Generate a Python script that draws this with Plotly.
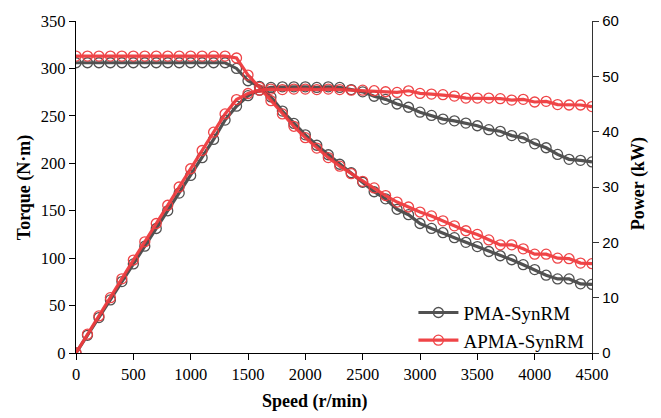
import plotly.graph_objects as go

speed = list(range(0, 4600, 100))

torque_pma = [306]*14 + [300, 287, 281, 270, 255, 242, 230, 219, 209, 199, 190, 180, 170,
              162.5, 151.5, 145.8, 136.5, 131.3, 126.8, 121.6, 116.7, 112.2, 107.0, 102.5,
              98.3, 93.1, 87.9, 82.0, 78.1, 78.1, 72.9, 72.3]
torque_apma = [313]*14 + [311, 293, 280, 266, 252, 239, 227, 216, 206, 197, 189, 181, 174,
               166.0, 159.1, 153.9, 148.6, 144.5, 139.3, 134.1, 128.9, 125.0, 119.2, 114.0,
               114.0, 109.8, 104.2, 104.2, 100.0, 99.4, 94.8, 94.2]
power_pma = [0, 3.2, 6.4, 9.6, 12.9, 16.1, 19.3, 22.5, 25.7, 28.9, 32.1, 35.3, 38.6, 42.1,
             44.6, 46.5, 47.5, 48.0, 48.1, 48.1, 48.1, 48.0, 48.1, 48.0, 47.6, 47.2, 46.4,
             45.84, 45.0, 44.41, 43.52, 42.93, 42.27, 41.96, 41.55, 41.07, 40.36, 40.07,
             39.29, 38.88, 37.8, 37.09, 35.89, 35.0, 34.82, 34.54]
power_apma = [0, 3.4, 6.7, 10.0, 13.4, 16.8, 20.1, 23.4, 26.7, 30.0, 33.3, 36.6, 39.9, 43.2,
              45.8, 46.9, 47.5, 47.7, 47.6, 47.7, 47.7, 47.6, 47.7, 47.6, 47.5, 47.5, 47.4,
              47.21, 47.09, 47.39, 46.91, 46.79, 46.68, 46.43, 46.07, 46.07, 46.07, 45.96,
              45.71, 45.84, 45.36, 45.48, 44.89, 44.82, 44.82, 44.54]

series_names = ["PMA-SynRM", "APMA-SynRM"]
x_ticks = [0, 500, 1000, 1500, 2000, 2500, 3000, 3500, 4000, 4500]
y_ticks = [0, 50, 100, 150, 200, 250, 300, 350]
y2_ticks = [0, 10, 20, 30, 40, 50, 60]

GREY = "#484848"
RED = "#ef3b3e"
SERIF = "Times New Roman, Liberation Serif, serif"
SANS = "Arial, Liberation Sans, sans-serif"

fig = go.Figure()

def add(y, name, color, axis, show):
    fig.add_trace(go.Scatter(
        x=speed, y=y, name=name, yaxis=axis, mode="lines+markers",
        legendgroup=name, showlegend=show,
        line=dict(color=color, width=3.2),
        marker=dict(symbol="circle-open", size=10, color=color, line=dict(width=1.3, color=color)),
        opacity=0.95,
    ))

add(torque_pma, series_names[0], GREY, "y", True)
add(torque_apma, series_names[1], RED, "y", True)
add(power_pma, series_names[0], GREY, "y2", False)
add(power_apma, series_names[1], RED, "y2", False)

title_font = dict(family=SERIF, size=18, color="black")

fig.update_layout(
    width=661, height=418,
    margin=dict(l=75.5, r=68.7, t=16.7, b=65.3),
    paper_bgcolor="white", plot_bgcolor="white",
    font=dict(family=SERIF, size=16, color="black"),
    showlegend=True,
    legend=dict(x=0.995, xanchor="right", y=-0.02, yanchor="bottom",
                font=dict(family=SERIF, size=19, color="black"),
                bgcolor="rgba(0,0,0,0)", itemwidth=40, tracegroupgap=0),
    xaxis=dict(range=[0, 4500], tickvals=x_ticks,
               showgrid=False, zeroline=False,
               showline=True, linecolor="black", linewidth=1.3,
               ticks="outside", ticklen=6, tickwidth=1.3, tickcolor="black",
               tickfont=dict(family=SERIF, size=16.5, color="black")),
    yaxis=dict(range=[0, 350], tickvals=y_ticks,
               showgrid=False, zeroline=False,
               showline=True, linecolor="black", linewidth=1.3,
               ticks="outside", ticklen=6, tickwidth=1.3, tickcolor="black",
               tickfont=dict(family=SERIF, size=16.5, color="black")),
    yaxis2=dict(range=[0, 60], tickvals=y2_ticks, overlaying="y", side="right",
                showgrid=False, zeroline=False,
                showline=True, linecolor="#333333", linewidth=1.3,
                ticks="outside", ticklen=6, tickwidth=1.3, tickcolor="#333333",
                tickfont=dict(family=SANS, size=15, color="black")),
    annotations=[
        dict(text="<b>Speed (r/min)</b>", xref="paper", yref="paper", x=0.4634, y=-0.1458,
             xanchor="center", yanchor="middle", showarrow=False, font=title_font),
        dict(text="<b>Torque (N·m)</b>", xref="paper", yref="paper", x=-0.101, y=0.499,
             xanchor="center", yanchor="middle", textangle=-90, showarrow=False, font=title_font),
        dict(text="<b>Power (kW)</b>", xref="paper", yref="paper", x=1.089, y=0.511,
             xanchor="center", yanchor="middle", textangle=-90, showarrow=False, font=title_font),
    ],
)

fig.write_html("out.html")
